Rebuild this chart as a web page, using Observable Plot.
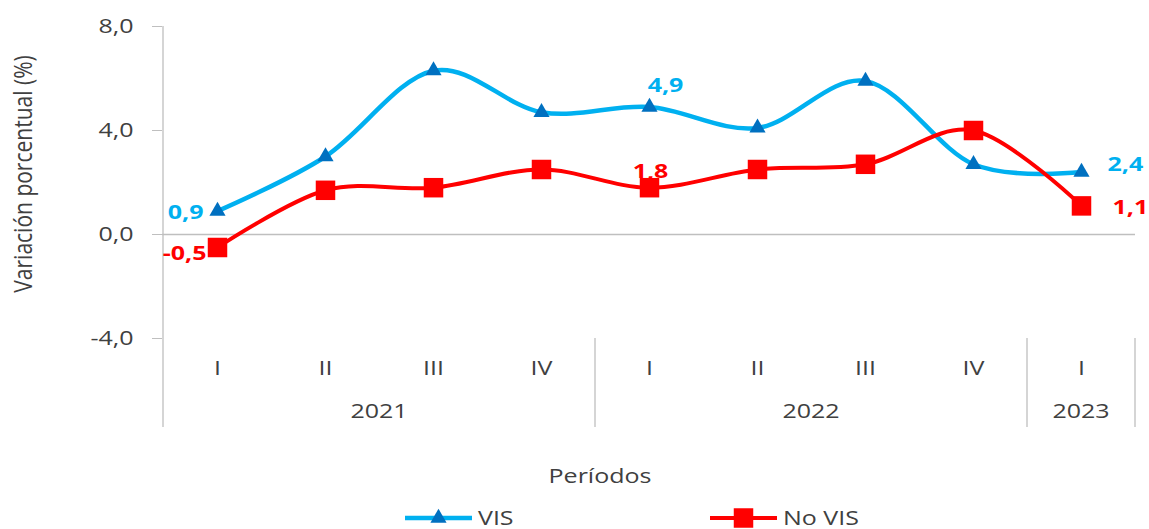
<!DOCTYPE html>
<html>
<head>
<meta charset="utf-8">
<script src="https://cdn.jsdelivr.net/npm/d3@7"></script>
<script src="https://cdn.jsdelivr.net/npm/@observablehq/plot@0.6"></script>
<style>
  html, body { margin: 0; padding: 0; background: #ffffff; }
  #chart svg { display: block; }
</style>
</head>
<body>
<div id="chart"></div>
<script>
// ---------- data ----------
const periods = ["2021-I","2021-II","2021-III","2021-IV","2022-I","2022-II","2022-III","2022-IV","2023-I"];
const quarters = ["I","II","III","IV","I","II","III","IV","I"];
const periodYears = ["2021","2021","2021","2021","2022","2022","2022","2022","2023"];
const years = ["2021","2022","2023"];
const visValues = [0.9, 3.0, 6.3, 4.7, 4.9, 4.1, 5.9, 2.7, 2.4];
const noVisValues = [-0.5, 1.7, 1.8, 2.5, 1.8, 2.5, 2.7, 4.0, 1.1];
const yTicks = [-4, 0, 4, 8];
const seriesNames = ["VIS", "No VIS"];
const lineColors = ["#00B0F0", "#FF0000"];
const markerColors = ["#0070C0", "#FF0000"];
const labelColors = ["#00B0F0", "#FF0000"];
const labeledPoints = [0, 4, 8];
const xTitle = "Períodos";
const yTitle = "Variación porcentual (%)";

// ---------- helpers ----------
const fmt = d => (d < 0 ? "-" : "") + Math.abs(d).toFixed(1).replace(".", ",");
const textColor = "#404040";
const gridColor = "#BFBFBF";
const FONT = "Open Sans";
const STRETCH = 1.25;

const visRows = periods.map((p, i) => ({period: p, value: visValues[i], i}));
const noVisRows = periods.map((p, i) => ({period: p, value: noVisValues[i], i}));

function labelMark(rows, idx, color, opts) {
  return Plot.text(rows.filter(d => d.i === idx), {
    x: "period", y: "value", text: d => fmt(d.value),
    fill: color, fontWeight: "bold", fontSize: 20, fontFamily: FONT,
    ...opts
  });
}

function decorations(index, scales, values, dimensions) {
  const x = scales.x, y = scales.y;
  const step = x(periods[1]) - x(periods[0]);
  const left = x(periods[0]) - step / 2;
  const bottom = y(d3.min(yTicks));
  const boxBottom = bottom + 89;
  const g = d3.create("svg:g");
  // vertical axis line (extends through the category box)
  g.append("line").attr("x1", left).attr("x2", left)
    .attr("y1", y(d3.max(yTicks))).attr("y2", boxBottom)
    .attr("stroke", gridColor).attr("stroke-width", 1.3);
  // year group dividers and labels
  years.forEach(yr => {
    const ps = periods.filter((p, i) => periodYears[i] === yr);
    const x0 = x(ps[0]), x1 = x(ps[ps.length - 1]);
    g.append("line").attr("x1", x1 + step / 2).attr("x2", x1 + step / 2)
      .attr("y1", bottom).attr("y2", boxBottom)
      .attr("stroke", gridColor).attr("stroke-width", 1.3);
    g.append("text")
      .attr("transform", `translate(${(x0 + x1) / 2},${bottom + 73})`)
      .attr("text-anchor", "middle").attr("dy", "0.35em")
      .attr("fill", textColor).attr("font-size", 20).attr("font-family", FONT)
      .text(yr);
  });
  // x title
  g.append("text")
    .attr("transform", `translate(600,${bottom + 138})`)
    .attr("text-anchor", "middle").attr("dy", "0.35em")
    .attr("fill", textColor).attr("font-size", 20).attr("font-family", FONT)
    .text(xTitle);
  // y title
  g.append("text")
    .attr("transform", `translate(32,${(y(d3.max(yTicks)) + bottom) / 2 - 8}) rotate(-90)`)
    .attr("data-rot", "1")
    .attr("text-anchor", "middle")
    .attr("fill", textColor).attr("font-size", 21).attr("font-family", FONT)
    .text(yTitle);
  // legend
  const legendY = bottom + 180;
  const items = [
    {name: seriesNames[0], x0: 405, x1: 472, sym: d3.symbolTriangle, r: 6, line: lineColors[0], mark: markerColors[0], w: 4.5},
    {name: seriesNames[1], x0: 710, x1: 777, sym: d3.symbolSquare, r: 11, line: lineColors[1], mark: markerColors[1], w: 4}
  ];
  items.forEach(it => {
    g.append("line").attr("x1", it.x0).attr("x2", it.x1).attr("y1", legendY).attr("y2", legendY)
      .attr("stroke", it.line).attr("stroke-width", it.w);
    g.append("path").attr("d", d3.symbol(it.sym, Math.PI * it.r * it.r)())
      .attr("transform", `translate(${(it.x0 + it.x1) / 2},${legendY})`)
      .attr("fill", it.mark);
    g.append("text")
      .attr("transform", `translate(${it.x1 + 6},${legendY})`)
      .attr("text-anchor", "start").attr("dy", "0.35em")
      .attr("fill", textColor).attr("font-size", 20).attr("font-family", FONT)
      .text(it.name);
  });
  return g.node();
}

const chart = Plot.plot({
  width: 1149,
  height: 529,
  marginLeft: 162,
  marginRight: 14,
  marginTop: 26,
  marginBottom: 191,
  style: {fontFamily: FONT, background: "#ffffff", overflow: "visible"},
  x: {type: "point", domain: periods, padding: 0.5, axis: null},
  y: {domain: [d3.min(yTicks), d3.max(yTicks)], axis: null},
  marks: [
    Plot.ruleY([0], {stroke: gridColor, strokeWidth: 1.3}),
    Plot.axisY({ticks: yTicks, tickSize: 10, tickPadding: 19, tickFormat: fmt,
      stroke: gridColor, fill: textColor, fontSize: 20, label: null}),
    Plot.axisX({ticks: periods, tickSize: 0, tickPadding: 22,
      tickFormat: d => quarters[periods.indexOf(d)],
      fill: textColor, fontSize: 20, label: null}),
    decorations,
    Plot.line(visRows, {x: "period", y: "value", stroke: lineColors[0], strokeWidth: 4.5, curve: "cardinal"}),
    Plot.dot(visRows, {x: "period", y: "value", symbol: "triangle", r: 6, fill: markerColors[0]}),
    Plot.line(noVisRows, {x: "period", y: "value", stroke: lineColors[1], strokeWidth: 4, curve: "cardinal"}),
    Plot.dot(noVisRows, {x: "period", y: "value", symbol: "square", r: 11, fill: markerColors[1]}),
    labelMark(visRows, labeledPoints[0], labelColors[0], {textAnchor: "end", dx: -14, dy: 1}),
    labelMark(visRows, labeledPoints[1], labelColors[0], {textAnchor: "middle", dx: 16, dy: -22}),
    labelMark(visRows, labeledPoints[2], labelColors[0], {textAnchor: "start", dx: 26, dy: -8}),
    labelMark(noVisRows, labeledPoints[0], labelColors[1], {textAnchor: "end", dx: -11, dy: 6}),
    labelMark(noVisRows, labeledPoints[1], labelColors[1], {textAnchor: "middle", dx: 1, dy: -16}),
    labelMark(noVisRows, labeledPoints[2], labelColors[1], {textAnchor: "start", dx: 31, dy: 2})
  ]
});

// horizontal stretch of the text, as in the reference
chart.querySelectorAll("text").forEach(t => {
  const tr = t.getAttribute("transform") || "";
  if (t.getAttribute("data-rot")) {
    t.setAttribute("transform", tr + ` scale(1,${STRETCH})`);
  } else if (tr) {
    t.setAttribute("transform", tr + ` scale(${STRETCH},1)`);
  }
});

document.getElementById("chart").appendChild(chart);
</script>
</body>
</html>
